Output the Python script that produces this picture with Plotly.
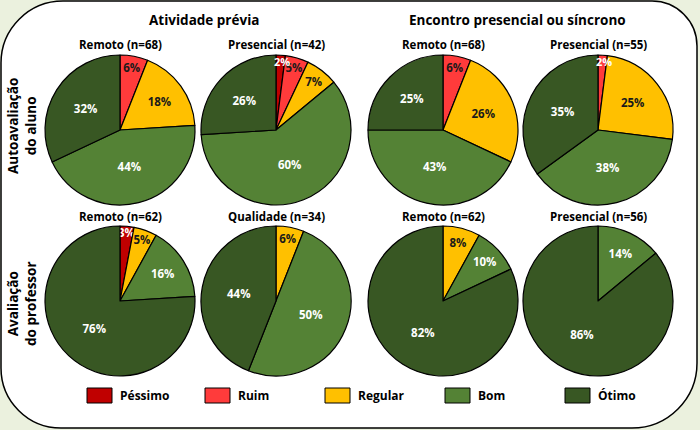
import math
import plotly.graph_objects as go

categorias = ['Péssimo', 'Ruim', 'Regular', 'Bom', 'Ótimo']
cores = ['#C00000', '#FF3B3B', '#FFC000', '#548235', '#385723']
cor_texto = ['white', '#1a1a1a', '#1a1a1a', 'white', 'white']

grupos = ['Atividade prévia', 'Encontro presencial ou síncrono']
linhas = ['Autoavaliação<br>do aluno', 'Avaliação<br>do professor']

# percentuais (Péssimo, Ruim, Regular, Bom, Ótimo)
aluno_ativ_remoto = [0, 6, 18, 44, 32]
aluno_ativ_presencial = [2, 5, 7, 60, 26]
aluno_enc_remoto = [0, 6, 26, 43, 25]
aluno_enc_presencial = [0, 2, 25, 38, 35]
prof_ativ_remoto = [3, 0, 5, 16, 76]
prof_ativ_qualidade = [0, 0, 6, 50, 44]
prof_enc_remoto = [0, 0, 8, 10, 82]
prof_enc_presencial = [0, 0, 0, 14, 86]

graficos = [
    [('Remoto (n=68)', aluno_ativ_remoto), ('Presencial (n=42)', aluno_ativ_presencial),
     ('Remoto (n=68)', aluno_enc_remoto), ('Presencial (n=55)', aluno_enc_presencial)],
    [('Remoto (n=62)', prof_ativ_remoto), ('Qualidade (n=34)', prof_ativ_qualidade),
     ('Remoto (n=62)', prof_enc_remoto), ('Presencial (n=56)', prof_enc_presencial)],
]

W, H = 700, 430
FONTE = 'Open Sans'

# posicoes em pixels (centro das pizzas)
cx = [120, 276, 443, 598]
cy = [130, 301]
R = 75


def px(x):
    return x / W


def py(y):
    return 1 - y / H


def rotulo(texto, x, y, size, cor='black', **kw):
    return dict(text=texto, x=px(x), y=py(y), xref='paper', yref='paper',
                xanchor=kw.pop('xanchor', 'center'), yanchor='middle', showarrow=False,
                font=dict(family=FONTE, size=size, color=cor, weight='bold'), **kw)


fig = go.Figure()
anotacoes = []

for i, linha in enumerate(graficos):
    for j, (titulo, valores) in enumerate(linha):
        idx = [k for k, v in enumerate(valores) if v > 0]
        textos = []
        acumulado = 0
        for k in idx:
            v = valores[k]
            if v < 3:
                # fatia muito fina: rotulo junto a borda, como no original
                meio = math.radians((acumulado + v / 2) * 3.6)
                anotacoes.append(rotulo(f'{v}%', cx[j] + 0.92 * R * math.sin(meio) + 2,
                                        cy[i] - 0.92 * R * math.cos(meio), 11,
                                        cor='white'))
                textos.append('')
            else:
                textos.append(f'{v}%')
            acumulado += v
        fig.add_trace(go.Pie(
            labels=[categorias[k] for k in idx],
            values=[valores[k] for k in idx],
            text=textos,
            textinfo='text',
            textposition='inside',
            insidetextorientation='horizontal',
            textfont=dict(family=FONTE, size=12, weight='bold',
                          color=[cor_texto[k] for k in idx]),
            marker=dict(colors=[cores[k] for k in idx],
                        line=dict(color='black', width=1.2)),
            sort=False, direction='clockwise', rotation=0,
            hoverinfo='label+percent', showlegend=False,
            domain=dict(x=[px(cx[j] - R), px(cx[j] + R)],
                        y=[py(cy[i] + R), py(cy[i] - R)]),
        ))
        anotacoes.append(rotulo(titulo, cx[j], cy[i] - R - 10, 11.5))

# titulos dos grupos
for g, xg in zip(grupos, [204, 517]):
    anotacoes.append(rotulo(g, xg, 20, 13.5))

# rotulos das linhas
for t, yl in zip(linhas, [126, 304]):
    anotacoes.append(rotulo(t, 22, yl, 13.5, textangle=-90))

# painel branco com cantos arredondados
x0, x1, y0, y1 = 1, 697, 1, 428
rtl, rtr, rbr, rbl = 62, 45, 65, 60
k = 0.5523
caminho = (
    f'M {px(x0 + rtl)},{py(y0)} L {px(x1 - rtr)},{py(y0)} '
    f'C {px(x1 - rtr + k * rtr)},{py(y0)} {px(x1)},{py(y0 + rtr - k * rtr)} {px(x1)},{py(y0 + rtr)} '
    f'L {px(x1)},{py(y1 - rbr)} '
    f'C {px(x1)},{py(y1 - rbr + k * rbr)} {px(x1 - rbr + k * rbr)},{py(y1)} {px(x1 - rbr)},{py(y1)} '
    f'L {px(x0 + rbl)},{py(y1)} '
    f'C {px(x0 + rbl - k * rbl)},{py(y1)} {px(x0)},{py(y1 - rbl + k * rbl)} {px(x0)},{py(y1 - rbl)} '
    f'L {px(x0)},{py(y0 + rtl)} '
    f'C {px(x0)},{py(y0 + rtl - k * rtl)} {px(x0 + rtl - k * rtl)},{py(y0)} {px(x0 + rtl)},{py(y0)} Z'
)
formas = [dict(type='path', path=caminho, xref='paper', yref='paper',
               fillcolor='white', line=dict(color='black', width=1.5), layer='below')]

# legenda
leg_x = [87, 205, 325, 445, 565]
for cat, cor, lx in zip(categorias, cores, leg_x):
    formas.append(dict(type='rect', xref='paper', yref='paper',
                       x0=px(lx), x1=px(lx + 25), y0=py(403), y1=py(388),
                       fillcolor=cor, line=dict(color='black', width=1)))
    anotacoes.append(rotulo(cat, lx + 31, 395.5, 12, xanchor='left'))

fig.update_layout(
    width=W, height=H,
    margin=dict(l=0, r=0, t=0, b=0),
    paper_bgcolor='#EBF1DE',
    plot_bgcolor='#EBF1DE',
    shapes=formas,
    annotations=anotacoes,
    uniformtext=dict(minsize=11, mode='show'),
)

fig.write_html('out.html', config={'displayModeBar': False},
               post_script="document.body.style.margin='0';")
